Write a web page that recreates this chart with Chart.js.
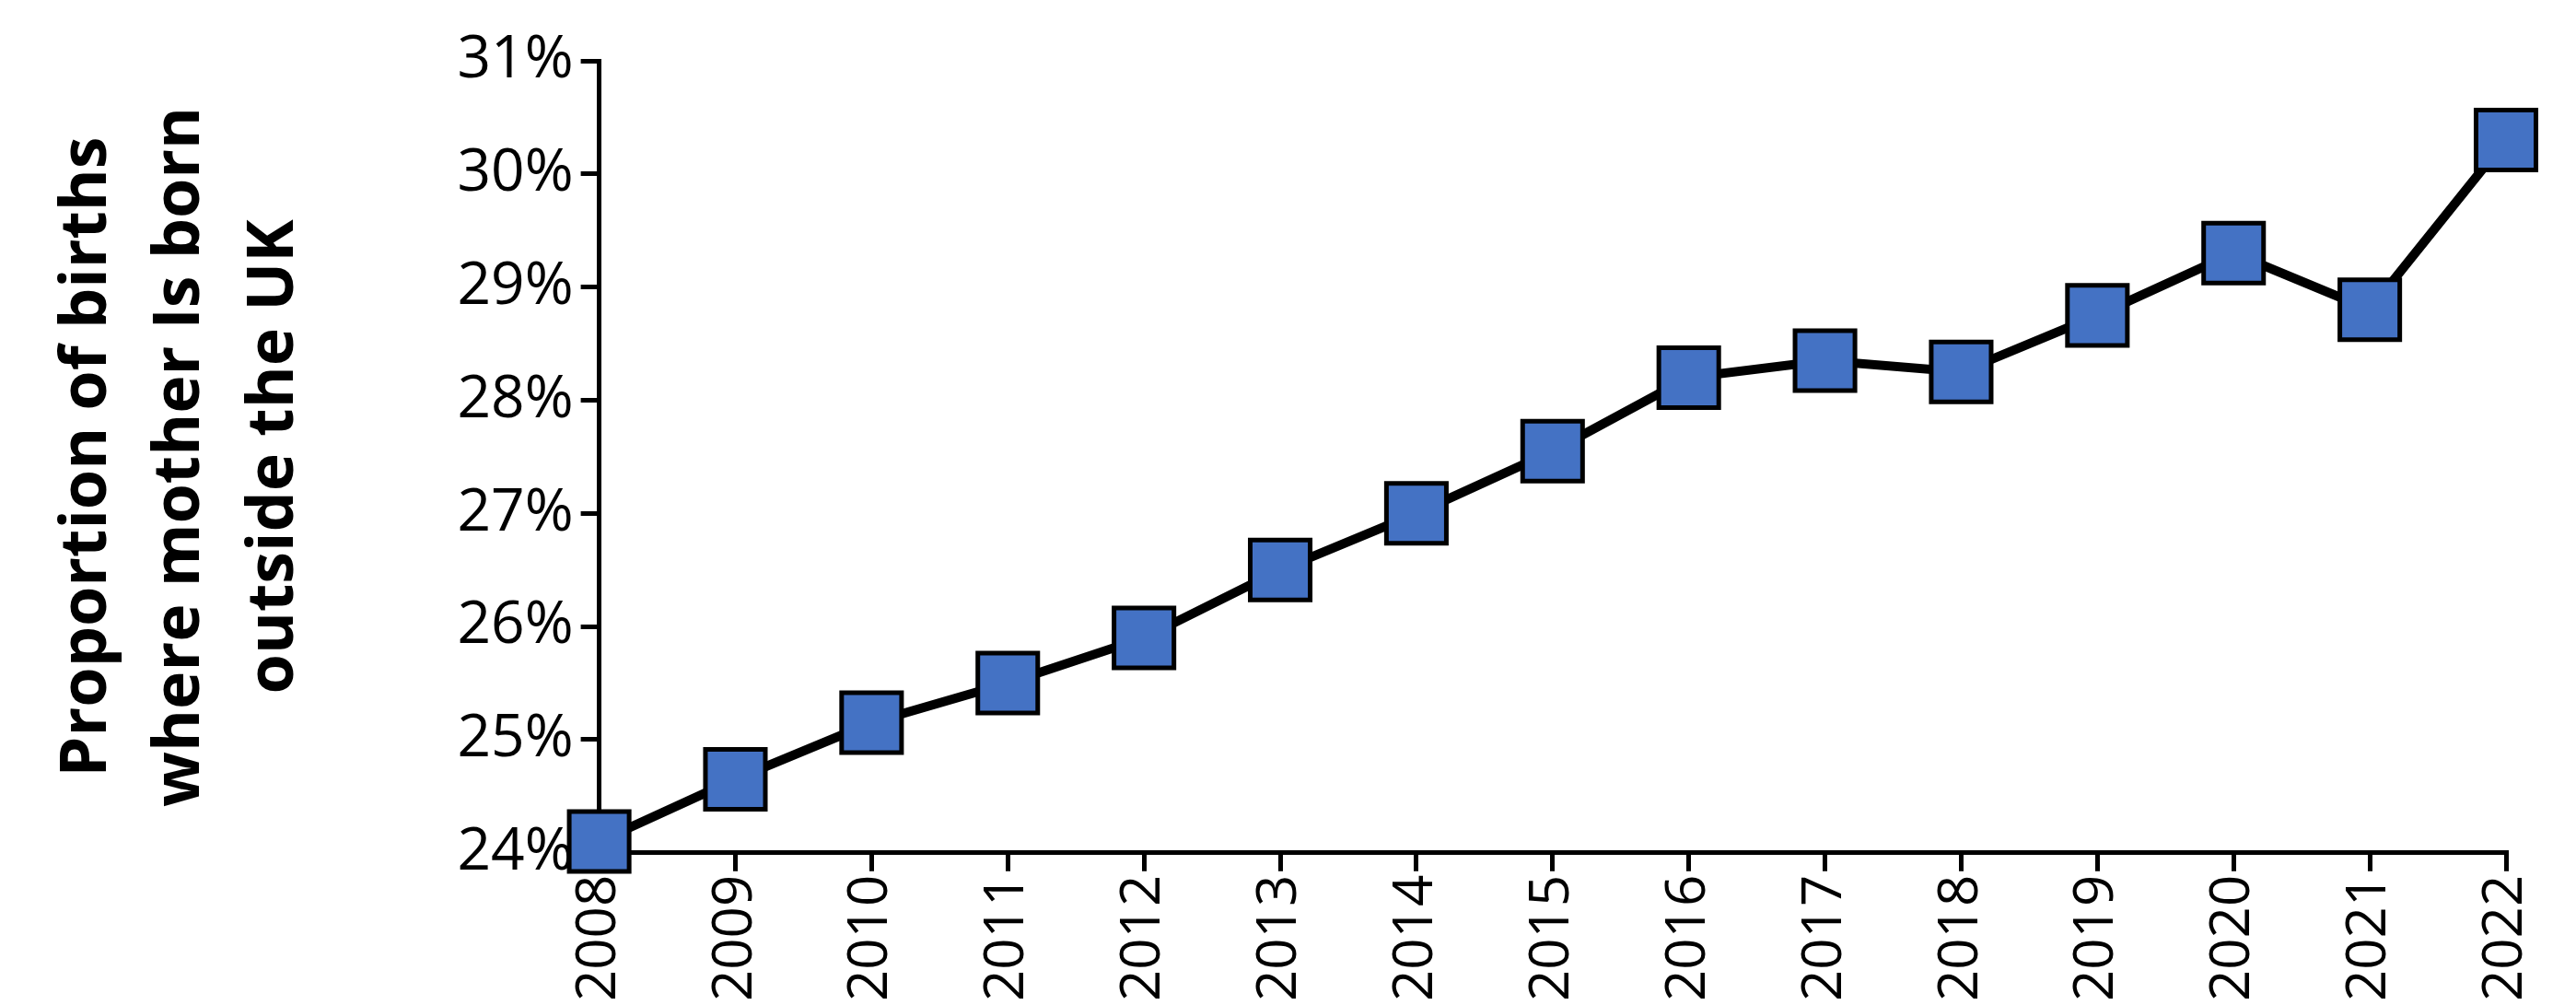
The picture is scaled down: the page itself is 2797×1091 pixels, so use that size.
<!DOCTYPE html>
<html><head><meta charset="utf-8">
<script src="https://cdn.jsdelivr.net/npm/chart.js@4/dist/chart.umd.min.js"></script>
<style>html,body{margin:0;padding:0;background:#fff}#wrap{width:2797px;height:1091px}</style>
</head><body><div id="wrap"><canvas id="c"></canvas></div>
<script>
const years = ["2008","2009","2010","2011","2012","2013","2014","2015","2016","2017","2018","2019","2020","2021","2022"];
const share = [24.1,24.65,25.15,25.5,25.9,26.5,27.0,27.55,28.2,28.35,28.25,28.75,29.3,28.8,30.3];
const yTitle = ["Proportion of births","where mother Is born","outside the UK"];
const F = "'Open Sans', 'Liberation Sans', sans-serif";
new Chart(document.getElementById('c'), {
  type: 'line',
  data: { labels: years, datasets: [{
    data: share, borderColor: '#000', borderWidth: 10, tension: 0,
    pointStyle: 'rect', pointRadius: 46, pointHoverRadius: 46,
    pointBackgroundColor: '#4472C4', pointBorderColor: '#000', pointBorderWidth: 5,
    clip: false
  }]},
  options: {
    responsive: true, maintainAspectRatio: false, animation: false,
    layout: { padding: { top: 66, right: 55, bottom: 0, left: 40 } },
    plugins: { legend: { display: false }, tooltip: { enabled: false } },
    scales: {
      x: { offset: false,
        grid: { display: true, drawOnChartArea: false, color: '#000', lineWidth: 5, tickLength: 20 },
        border: { color: '#000', width: 5 },
        ticks: { color: '#000', font: { family: F, size: 60 }, minRotation: 90, maxRotation: 90, padding: 4 } },
      y: { min: 24, max: 31,
        grid: { display: true, drawOnChartArea: false, color: '#000', lineWidth: 5, tickLength: 20 },
        border: { color: '#000', width: 5 },
        ticks: { stepSize: 1, color: '#000', font: { family: F, size: 64 }, padding: 8, callback: v => v + '%' },
        title: { display: true, text: yTitle, color: '#000', font: { family: F, size: 70, weight: 'bold', lineHeight: 1.45 }, padding: { bottom: 140 } } }
    }
  }
});
</script></body></html>
